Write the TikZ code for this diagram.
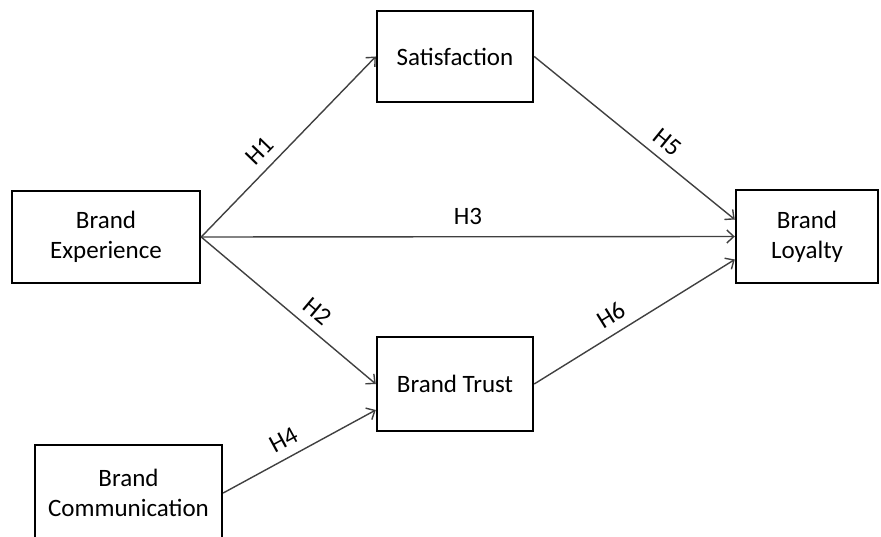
\documentclass[tikz,border=0pt]{standalone}
\usepackage{fontspec}
\setmainfont{Carlito}
\usetikzlibrary{arrows.meta}
\begin{document}
\begin{tikzpicture}[x=1pt,y=-1pt,
  box/.style={draw=black, line width=2.4pt, fill=white, inner sep=0pt, align=center,
    font=\fontsize{25}{30}\selectfont},
  arr/.style={draw=black!75, line width=1.4pt, -{Straight Barb[length=7pt,width=13pt,line width=1.4pt]}},
  lab/.style={font=\fontsize{25}{30}\selectfont, inner sep=1pt, sloped, above=8pt}]
\useasboundingbox (0,0) rectangle (881,537);
\clip (0,0) rectangle (881,537);
\node[box, minimum width=188pt, minimum height=92pt] (exp) at (106,237) {Brand\\Experience};
\node[box, minimum width=156pt, minimum height=91pt] (sat) at (455,56.5) {Satisfaction};
\node[box, minimum width=142pt, minimum height=93pt] (loy) at (807,236.5) {Brand\\Loyalty};
\node[box, minimum width=156pt, minimum height=94pt] (tru) at (455,384) {Brand Trust};
\node[box, minimum width=187pt, minimum height=96pt] (com) at (128.5,493) {Brand\\Communication};
\coordinate (loyA) at ([yshift=17pt]loy.west);
\coordinate (loyC) at ([yshift=-23pt]loy.west);
\coordinate (truB) at ([yshift=-26pt]tru.west);
\draw[arr] (exp.east) -- (sat.west) node[lab, pos=0.41] {H1};
\draw[arr] (exp.east) -- (tru.west) node[lab, pos=0.6] {H2};
\draw[arr] (exp.east) -- (loy.west) node[lab, pos=0.5, above=2pt] {H3};
\draw[arr] (com.east) -- (truB) node[lab, pos=0.45] {H4};
\draw[arr] (sat.east) -- (loyA) node[lab, pos=0.61] {H5};
\draw[arr] (tru.east) -- (loyC) node[lab, pos=0.43] {H6};
\end{tikzpicture}
\end{document}
